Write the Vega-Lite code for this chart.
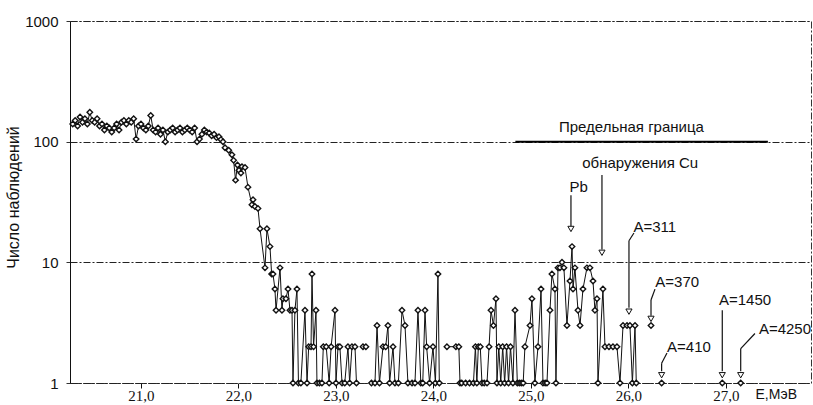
{
  "$schema": "https://vega.github.io/schema/vega-lite/v6.json",
  "width": 741,
  "height": 362,
  "autosize": {"type": "none"},
  "padding": {"left": 70, "top": 21, "right": 2, "bottom": 22},
  "background": "white",
  "config": {
    "view": {"stroke": "#333", "strokeDash": [7, 2, 2, 2], "strokeWidth": 1},
    "font": "Liberation Sans"
  },
  "datasets": {
    "series": [
      {"E":20.300,"N":140},{"E":20.325,"N":150},{"E":20.350,"N":135},{"E":20.375,"N":160},{"E":20.400,"N":145},
      {"E":20.425,"N":155},{"E":20.450,"N":140},{"E":20.475,"N":175},{"E":20.500,"N":150},{"E":20.525,"N":145},
      {"E":20.550,"N":155},{"E":20.575,"N":135},{"E":20.600,"N":140},{"E":20.625,"N":125},{"E":20.650,"N":135},
      {"E":20.675,"N":130},{"E":20.700,"N":120},{"E":20.725,"N":130},{"E":20.750,"N":140},{"E":20.775,"N":125},
      {"E":20.800,"N":145},{"E":20.825,"N":150},{"E":20.850,"N":140},{"E":20.875,"N":150},{"E":20.900,"N":145},
      {"E":20.925,"N":155},{"E":20.950,"N":105},{"E":20.975,"N":135},{"E":21.000,"N":140},{"E":21.025,"N":130},
      {"E":21.050,"N":125},{"E":21.075,"N":135},{"E":21.100,"N":165},{"E":21.125,"N":125},{"E":21.150,"N":120},
      {"E":21.175,"N":130},{"E":21.200,"N":115},{"E":21.225,"N":125},{"E":21.250,"N":100},{"E":21.275,"N":120},
      {"E":21.300,"N":125},{"E":21.325,"N":130},{"E":21.350,"N":120},{"E":21.375,"N":125},{"E":21.400,"N":130},
      {"E":21.425,"N":120},{"E":21.450,"N":125},{"E":21.475,"N":130},{"E":21.500,"N":125},{"E":21.525,"N":120},
      {"E":21.550,"N":130},{"E":21.575,"N":100},{"E":21.600,"N":105},{"E":21.625,"N":115},{"E":21.650,"N":125},
      {"E":21.675,"N":120},{"E":21.700,"N":118},{"E":21.725,"N":112},{"E":21.750,"N":115},{"E":21.775,"N":108},
      {"E":21.800,"N":110},{"E":21.820,"N":104},{"E":21.841,"N":100},{"E":21.862,"N":89},{"E":21.900,"N":85},
      {"E":21.933,"N":78},{"E":21.950,"N":70},{"E":21.970,"N":48},{"E":21.990,"N":64},{"E":22.005,"N":58},
      {"E":22.025,"N":55},{"E":22.036,"N":62},{"E":22.067,"N":61},{"E":22.097,"N":42},{"E":22.138,"N":30},
      {"E":22.149,"N":33},{"E":22.169,"N":29},{"E":22.200,"N":28},{"E":22.221,"N":19},{"E":22.272,"N":9},
      {"E":22.292,"N":19},{"E":22.323,"N":13.5},{"E":22.340,"N":8},{"E":22.354,"N":8},{"E":22.374,"N":6},
      {"E":22.385,"N":4},{"E":22.426,"N":9},{"E":22.446,"N":4},{"E":22.456,"N":5},{"E":22.487,"N":5},
      {"E":22.508,"N":6},{"E":22.528,"N":4},{"E":22.549,"N":4},{"E":22.559,"N":1},{"E":22.579,"N":4},
      {"E":22.600,"N":6},{"E":22.615,"N":1},{"E":22.640,"N":1},{"E":22.682,"N":4},{"E":22.703,"N":1},
      {"E":22.720,"N":2},{"E":22.744,"N":2},{"E":22.754,"N":8},{"E":22.770,"N":2},{"E":22.795,"N":4},
      {"E":22.805,"N":1},{"E":22.830,"N":1},{"E":22.856,"N":1},{"E":22.870,"N":2},{"E":22.900,"N":2},
      {"E":22.930,"N":1},{"E":22.950,"N":2},{"E":22.990,"N":4},{"E":23.000,"N":1},{"E":23.021,"N":2},
      {"E":23.040,"N":2},{"E":23.062,"N":1},{"E":23.090,"N":1},{"E":23.123,"N":2},{"E":23.140,"N":1},
      {"E":23.164,"N":2},{"E":23.195,"N":2},{"E":23.210,"N":1},{"E":23.240,"N":null},{"E":23.277,"N":2},
      {"E":23.307,"N":2},{"E":23.330,"N":null},{"E":23.364,"N":1},{"E":23.400,"N":1},{"E":23.421,"N":3},
      {"E":23.446,"N":1},{"E":23.482,"N":2},{"E":23.510,"N":2},{"E":23.533,"N":3},{"E":23.550,"N":1},
      {"E":23.585,"N":2},{"E":23.605,"N":1},{"E":23.640,"N":1},{"E":23.677,"N":4},{"E":23.708,"N":3},
      {"E":23.738,"N":1},{"E":23.780,"N":1},{"E":23.810,"N":1},{"E":23.841,"N":4},{"E":23.870,"N":1},
      {"E":23.890,"N":1},{"E":23.913,"N":4},{"E":23.930,"N":2},{"E":23.960,"N":1},{"E":23.995,"N":2},
      {"E":24.020,"N":1},{"E":24.046,"N":8},{"E":24.060,"N":1},{"E":24.090,"N":null},{"E":24.138,"N":2},
      {"E":24.230,"N":2},{"E":24.260,"N":2},{"E":24.272,"N":1},{"E":24.290,"N":1},{"E":24.330,"N":1},
      {"E":24.370,"N":1},{"E":24.410,"N":1},{"E":24.430,"N":2},{"E":24.445,"N":1},{"E":24.460,"N":2},
      {"E":24.480,"N":2},{"E":24.497,"N":1},{"E":24.520,"N":1},{"E":24.549,"N":1},{"E":24.570,"N":2},
      {"E":24.590,"N":4},{"E":24.615,"N":3},{"E":24.641,"N":5},{"E":24.651,"N":1},{"E":24.670,"N":2},
      {"E":24.690,"N":1},{"E":24.710,"N":2},{"E":24.730,"N":1},{"E":24.750,"N":2},{"E":24.770,"N":1},
      {"E":24.790,"N":2},{"E":24.815,"N":1},{"E":24.836,"N":4},{"E":24.860,"N":1},{"E":24.880,"N":1},
      {"E":24.900,"N":1},{"E":24.920,"N":1},{"E":24.938,"N":2},{"E":24.990,"N":3},{"E":25.010,"N":5},
      {"E":25.040,"N":1},{"E":25.072,"N":2},{"E":25.103,"N":6},{"E":25.123,"N":1},{"E":25.145,"N":1},
      {"E":25.164,"N":1},{"E":25.195,"N":4},{"E":25.215,"N":8},{"E":25.246,"N":6},{"E":25.256,"N":1},
      {"E":25.277,"N":9},{"E":25.297,"N":9},{"E":25.318,"N":10},{"E":25.338,"N":9},{"E":25.369,"N":3},
      {"E":25.400,"N":7},{"E":25.421,"N":13.5},{"E":25.431,"N":6},{"E":25.451,"N":9},{"E":25.482,"N":4},
      {"E":25.503,"N":3},{"E":25.533,"N":6},{"E":25.574,"N":9},{"E":25.605,"N":9},{"E":25.636,"N":7},
      {"E":25.656,"N":4},{"E":25.677,"N":5},{"E":25.687,"N":1},{"E":25.738,"N":6},{"E":25.759,"N":2},
      {"E":25.800,"N":2},{"E":25.841,"N":2},{"E":25.882,"N":2},{"E":25.913,"N":1},{"E":25.944,"N":3},
      {"E":25.985,"N":3},{"E":26.015,"N":3},{"E":26.040,"N":1},{"E":26.067,"N":3},{"E":26.080,"N":1},
      {"E":26.100,"N":null},{"E":26.231,"N":3},{"E":26.300,"N":null},{"E":26.340,"N":1},{"E":26.600,"N":null},
      {"E":26.962,"N":1},{"E":27.050,"N":null},{"E":27.151,"N":1}
    ],
    "segs": [
      {"E":25.41,"N":36,"E2":25.41,"N2":20},
      {"E":25.728,"N":53,"E2":25.728,"N2":12.8},
      {"E":26.056,"N":17.5,"E2":26.005,"N2":15.1},
      {"E":26.005,"N":15.1,"E2":26.005,"N2":4.2},
      {"E":26.272,"N":6.0,"E2":26.231,"N2":4.87},
      {"E":26.231,"N":4.87,"E2":26.231,"N2":3.6},
      {"E":26.395,"N":1.77,"E2":26.34,"N2":1.46},
      {"E":26.34,"N":1.46,"E2":26.34,"N2":1.25},
      {"E":26.962,"N":4.0,"E2":26.962,"N2":1.25},
      {"E":27.297,"N":2.57,"E2":27.151,"N2":1.93},
      {"E":27.151,"N":1.93,"E2":27.151,"N2":1.25}
    ],
    "heads": [
      {"E":25.41,"N":18.9},
      {"E":25.728,"N":12.0},
      {"E":26.005,"N":3.9},
      {"E":26.231,"N":3.4},
      {"E":26.34,"N":1.16},
      {"E":26.962,"N":1.16},
      {"E":27.151,"N":1.16}
    ],
    "labels": [
      {"E":26.03,"N":133,"t":"Предельная граница"},
      {"E":26.12,"N":67,"t":"обнаружения Cu"},
      {"E":25.49,"N":42,"t":"Pb"},
      {"E":26.27,"N":19.7,"t":"A=311"},
      {"E":26.5,"N":6.9,"t":"A=370"},
      {"E":26.62,"N":1.98,"t":"A=410"},
      {"E":27.195,"N":4.87,"t":"A=1450"},
      {"E":27.605,"N":2.79,"t":"A=4250"}
    ],
    "limit": [{"E":24.84,"E2":27.43,"N":100}]
  },
  "encoding": {
    "x": {
      "field": "E", "type": "quantitative",
      "scale": {"domain": [20.272, 27.872], "nice": false, "zero": false},
      "axis": {
        "values": [21, 22, 23, 24, 25, 26, 27],
        "labelExpr": "replace(format(datum.value,'.1f'),'.',',')",
        "labelFont": "Liberation Serif", "labelFontSize": 15, "labelColor": "#111",
        "tickColor": "#111", "tickSize": 5, "labelPadding": 0,
        "domainColor": "#222", "domainDash": [7, 2, 2, 2], "grid": false,
        "title": "E,МэВ", "titleFont": "Liberation Sans", "titleFontSize": 14, "titleFontWeight": "normal",
        "titleColor": "#111", "titleX": 685, "titleY": 11, "titleAlign": "left", "titleBaseline": "middle", "titleAnchor": null
      }
    },
    "y": {
      "field": "N", "type": "quantitative",
      "scale": {"type": "log", "domain": [1, 1000], "nice": false},
      "axis": {
        "values": [1, 10, 100, 1000], "format": "d",
        "labelFont": "Liberation Sans", "labelFontSize": 15, "labelColor": "#111", "labelPadding": 8,
        "ticks": true, "tickSize": 4, "tickColor": "#333", "domainColor": "#111",
        "grid": true, "gridDash": [7, 2, 2, 2], "gridColor": "#222", "gridWidth": 1,
        "title": "Число наблюдений", "titleFont": "Liberation Sans", "titleFontSize": 16, "titleFontWeight": "normal",
        "titleColor": "#111", "titlePadding": 3, "titleY": 176
      }
    }
  },
  "layer": [
    {
      "data": {"name": "series"},
      "mark": {"type": "line", "color": "#111", "strokeWidth": 1}
    },
    {
      "data": {"name": "series"},
      "mark": {"type": "point", "shape": "diamond", "size": 30, "filled": true, "fill": "white", "stroke": "#111", "strokeWidth": 1.4, "opacity": 1}
    },
    {
      "data": {"name": "limit"},
      "mark": {"type": "rule", "color": "#000", "strokeWidth": 2},
      "encoding": {"x2": {"field": "E2"}}
    },
    {
      "data": {"name": "segs"},
      "mark": {"type": "rule", "color": "#111", "strokeWidth": 1.2},
      "encoding": {"x2": {"field": "E2"}, "y2": {"field": "N2"}}
    },
    {
      "data": {"name": "heads"},
      "mark": {"type": "point", "shape": "triangle-down", "size": 38, "filled": true, "fill": "white", "stroke": "#111", "strokeWidth": 1, "opacity": 1}
    },
    {
      "data": {"name": "labels"},
      "mark": {"type": "text", "font": "Liberation Sans", "fontSize": 15, "color": "#111", "align": "center", "baseline": "middle"},
      "encoding": {"text": {"field": "t"}}
    }
  ]
}
